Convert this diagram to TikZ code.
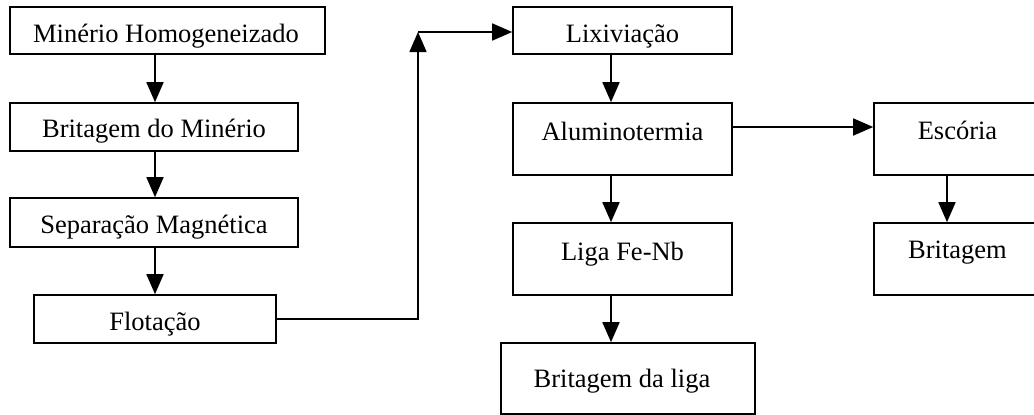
\documentclass[tikz,border=0pt]{standalone}
\usepackage{fontspec}
\setmainfont{Liberation Serif}
\usetikzlibrary{arrows.meta}
\begin{document}
\begin{tikzpicture}[x=1pt,y=-1pt,
  box/.style={draw,line width=1.6pt,rectangle,inner sep=0pt},
  lbl/.style={anchor=base,inner sep=0pt,font=\fontsize{26.5}{31}\selectfont},
  arr/.style={line width=1.6pt,-{Triangle[length=20pt,width=17pt]}},
  link/.style={line width=1.6pt}]
\useasboundingbox (0,0) rectangle (1034,415);
\clip (0,0) rectangle (1034,415);

% left column: ore preparation
\node[box,minimum width=315pt,minimum height=47pt] (hom) at (167.5,30.5) {};
\node[box,minimum width=288pt,minimum height=48pt] (brit) at (154,127) {};
\node[box,minimum width=288pt,minimum height=49pt] (sep) at (154,222.5) {};
\node[box,minimum width=242pt,minimum height=48pt] (flot) at (155,319) {};

% middle column: metallurgy
\node[box,minimum width=219pt,minimum height=47pt] (lix) at (622.5,30.5) {};
\node[box,minimum width=219pt,minimum height=72pt] (alu) at (622.5,139) {};
\node[box,minimum width=219pt,minimum height=72pt] (liga) at (622.5,259) {};
\node[box,minimum width=254pt,minimum height=71pt] (bliga) at (628,378.5) {};

% right column: slag
\node[box,minimum width=167pt,minimum height=72pt] (esc) at (957.5,139) {};
\node[box,minimum width=167pt,minimum height=72pt] (bri) at (957.5,259) {};

% labels
\node[lbl] at (166,42) {Minério Homogeneizado};
\node[lbl] at (154,137) {Britagem do Minério};
\node[lbl] at (154,233) {Separação Magnética};
\node[lbl] at (155,330) {Flotação};
\node[lbl] at (622.5,42) {Lixiviação};
\node[lbl] at (622.5,140) {Aluminotermia};
\node[lbl] at (622.5,260) {Liga Fe-Nb};
\node[lbl] at (622,387) {Britagem da liga};
\node[lbl] at (957.5,139) {Escória};
\node[lbl] at (957.5,258) {Britagem};

% connector columns
\coordinate (cL) at (155,0);
\coordinate (cR) at (611,0);
\coordinate (cS) at (947,0);
\coordinate (turn) at (418,32);
\coordinate (side) at (0,127);

\draw[arr] (hom.south -| cL) -- (brit.north -| cL);
\draw[arr] (brit.south -| cL) -- (sep.north -| cL);
\draw[arr] (sep.south -| cL) -- (flot.north -| cL);

\draw[arr] (flot.east) -| (turn);
\draw[arr] (turn) -- (lix.west |- turn);

\draw[arr] (lix.south -| cR) -- (alu.north -| cR);
\draw[arr] (alu.south -| cR) -- (liga.north -| cR);
\draw[arr] (liga.south -| cR) -- (bliga.north -| cR);

\draw[arr] (alu.east |- side) -- (esc.west |- side);
\draw[arr] (esc.south -| cS) -- (bri.north -| cS);
\end{tikzpicture}
\end{document}
